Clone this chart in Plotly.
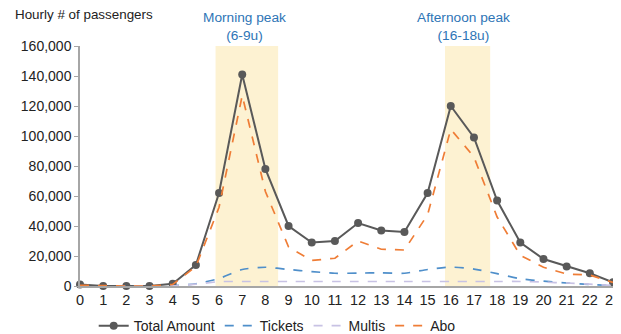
import plotly.graph_objects as go

hours = list(range(24))
total = [1000, 0, 0, 0, 1500, 14000, 62000, 141000, 78000, 40000, 29000, 30000,
         42000, 37000, 36000, 62000, 120000, 99000, 57000, 29000, 18000, 13000, 8500, 2500]
tickets = [0, 0, 0, 0, 200, 1500, 5000, 11000, 12500, 11000, 9600, 8500,
           8600, 8800, 8500, 11000, 12600, 11300, 8200, 4800, 3200, 2000, 1000, 300]
multis = [0, 0, 0, 0, 100, 1200, 2900, 3000, 3000, 3000, 3000, 3000,
          3000, 3000, 3000, 3000, 3000, 3000, 3000, 3000, 2600, 2000, 1200, 300]
abo = [500, 0, 0, 0, 1000, 13000, 52500, 127000, 63000, 26000, 17000, 18500,
       30000, 24500, 24000, 47500, 104500, 86000, 46000, 20500, 12500, 8000, 7300, 2400]

# label, band start, band end, label centre (hours)
peaks = [("Morning peak<br>(6-9u)", 5.85, 8.55, 7.1),
         ("Afternoon peak<br>(16-18u)", 15.75, 17.7, 16.55)]

COLORS = {"total": "#595959", "tickets": "#4f8fca", "multis": "#c8c2e4",
          "abo": "#ef7d36", "shade": "#fdf2d2", "note": "#2e75b6"}

fig = go.Figure()
fig.add_trace(go.Scatter(x=hours, y=total, name="Total Amount", mode="lines+markers",
                         line=dict(color=COLORS["total"], width=2),
                         marker=dict(size=8, color=COLORS["total"]), cliponaxis=False))
fig.add_trace(go.Scatter(x=hours, y=tickets, name="Tickets", mode="lines",
                         line=dict(color=COLORS["tickets"], width=1.7, dash="dash", shape="spline", smoothing=0.6)))
fig.add_trace(go.Scatter(x=hours, y=multis, name="Multis", mode="lines",
                         line=dict(color=COLORS["multis"], width=1.7, dash="dash", shape="spline", smoothing=0.6)))
fig.add_trace(go.Scatter(x=hours, y=abo, name="Abo", mode="lines",
                         line=dict(color=COLORS["abo"], width=1.7, dash="dash")))

for label, x0, x1, xc in peaks:
    fig.add_shape(type="rect", xref="x", yref="paper", x0=x0, x1=x1, y0=0, y1=1,
                  fillcolor=COLORS["shade"], line_width=0, layer="below")
    fig.add_annotation(x=xc, xref="x", y=1.005, yref="paper", yanchor="bottom",
                       text=label, showarrow=False,
                       font=dict(color=COLORS["note"], size=13.7))

fig.add_annotation(text="Hourly # of passengers", xref="paper", yref="paper",
                   x=-0.125, y=1.13, xanchor="left", yanchor="middle", showarrow=False,
                   font=dict(size=13.4, color="#222"))

# page has an 8px body margin; figure is a bit wider than what is left so "23" is not dropped
fig.update_layout(
    width=621, height=326, template="plotly_white",
    font=dict(family="Liberation Sans, Arial", size=14, color="#222"),
    margin=dict(l=72, r=16, t=38, b=48, autoexpand=False),
    plot_bgcolor="white", paper_bgcolor="white",
    showlegend=True,
    legend=dict(orientation="h", x=0.37, xanchor="center", y=-0.167, yanchor="middle",
                font=dict(size=14)),
    xaxis=dict(range=[0, 23], tickmode="array", tickvals=hours, showgrid=False,
               zeroline=False, showline=True, linecolor="#a6a6a6", linewidth=1.5,
               tickfont=dict(size=14.5), automargin=False, ticklabeloverflow="allow"),
    yaxis=dict(range=[0, 160000], tickvals=list(range(0, 160001, 20000)), tickformat=",d",
               showgrid=False, zeroline=False, showline=True, linecolor="#a6a6a6", linewidth=1.5,
               ticks="outside", ticklen=4, tickcolor="#a6a6a6", tickfont=dict(size=14),
               automargin=False),
)
fig.write_html("out.html")
